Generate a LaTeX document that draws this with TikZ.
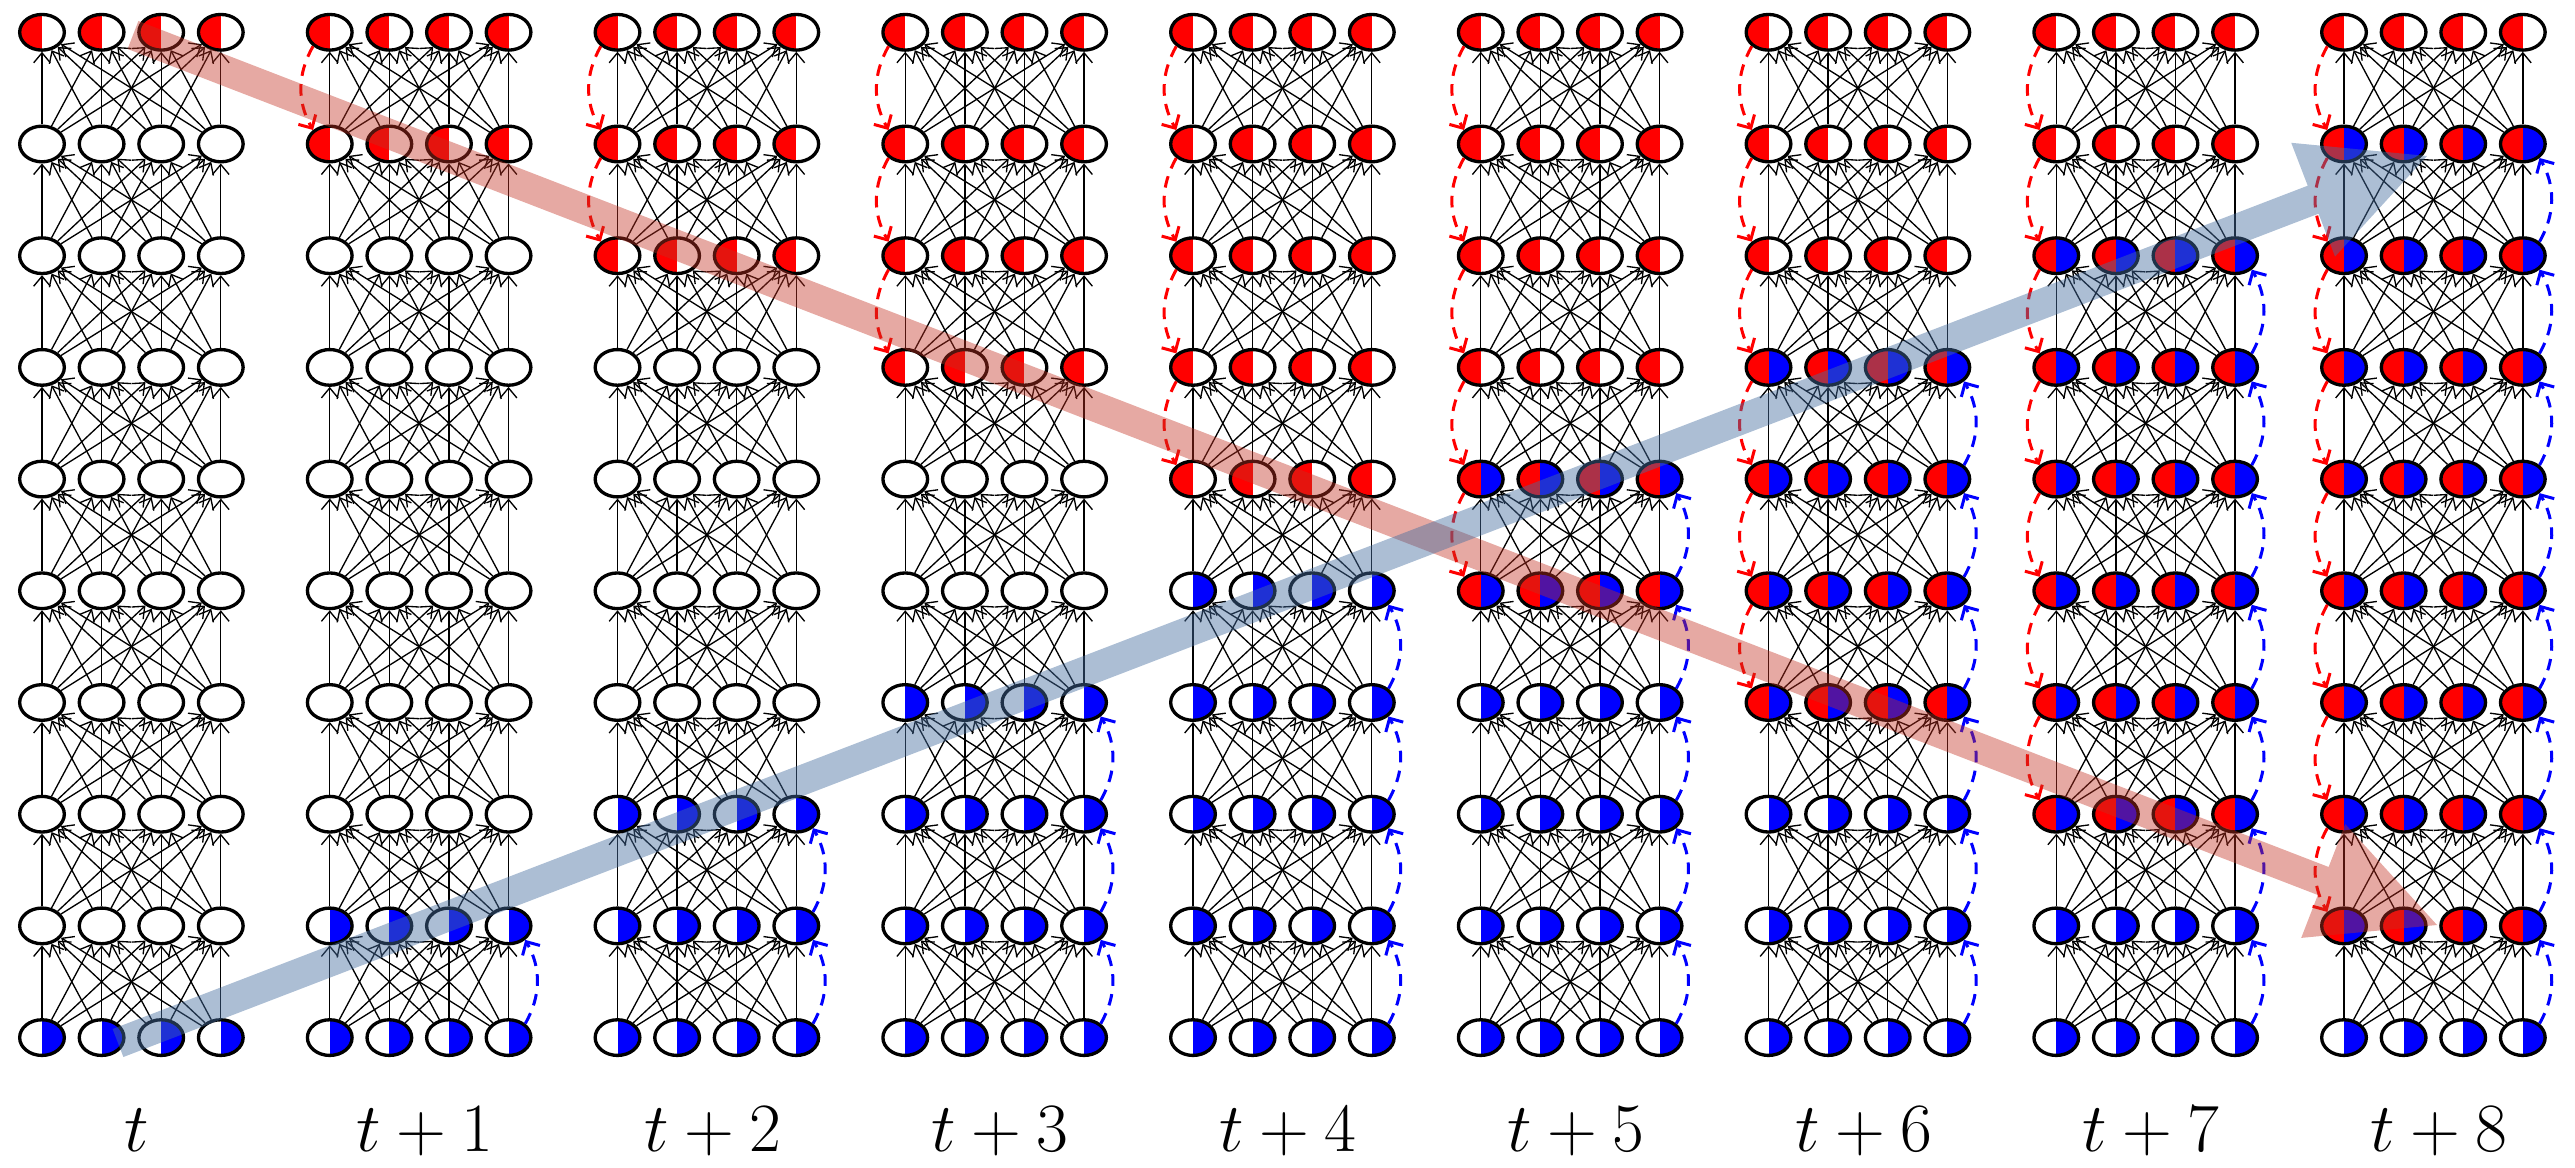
\documentclass[tikz,border=0pt]{standalone}
\usetikzlibrary{arrows.meta,shapes.geometric}
\definecolor{bandred}{RGB}{195,50,35}
\definecolor{bandblue}{RGB}{70,110,160}
\tikzset{
  neuron/.style={ellipse, draw, line width=1pt, fill=white,
    minimum width=13.4pt, minimum height=10.7pt, inner sep=0pt},
  state0/.style={},
  state1/.style={path picture={\fill[red] (path picture bounding box.south west) rectangle (path picture bounding box.north);}},
  state2/.style={path picture={\fill[blue] (path picture bounding box.south) rectangle (path picture bounding box.north east);}},
  state3/.style={path picture={\fill[red] (path picture bounding box.south west) rectangle (path picture bounding box.north);
      \fill[blue] (path picture bounding box.south) rectangle (path picture bounding box.north east);}},
  link/.style={line width=0.4pt, -{Straight Barb[length=3pt,width=5pt]}},
  reddash/.style={red, line width=0.9pt, dash pattern=on 3.5pt off 2.5pt,
    -{Straight Barb[length=3pt,width=6pt]}},
  bluedash/.style={blue, line width=0.9pt, dash pattern=on 3.5pt off 2.5pt,
    -{Straight Barb[length=3pt,width=6pt]}},
  steplabel/.style={font=\fontsize{21.5}{26}\selectfont, anchor=base, inner sep=0pt, text depth=0pt}
}
\begin{document}
\begin{tikzpicture}[x=0.3pt,y=-0.3pt]
\useasboundingbox (0,0) rectangle (2575,1168);
% neurons
\foreach \k in {0,...,8} {
  \foreach \j in {1,...,10} {
    \pgfmathtruncatemacro\isred{\j<=\k+1 ? 1 : 0}
    \pgfmathtruncatemacro\isblue{\j>=10-\k ? 1 : 0}
    \pgfmathtruncatemacro\st{\isred+2*\isblue}
    \foreach \i in {1,...,4} {
      \node[neuron,state\st] (c\k-\j-\i) at ({42+\k*287.75+(\i-1)*59.6},{32.3+(\j-1)*111.7}) {};
    }
  }
}
% full connections, lower layer -> upper layer
\foreach \k in {0,...,8} {
  \foreach \j in {2,...,10} {
    \pgfmathtruncatemacro\jj{\j-1}
    \foreach \a in {1,...,4} {
      \foreach \b in {1,...,4} {
        \draw[link] (c\k-\j-\a) -- (c\k-\jj-\b);
      }
    }
  }
}
% dashed propagation arrows
\foreach \k in {1,...,8} {
  \foreach \j in {1,...,\k} {
    \pgfmathtruncatemacro\jn{\j+1}
    \draw[reddash] (c\k-\j-1.220) .. controls +(-16,28) and +(-16,-28) .. (c\k-\jn-1.140);
  }
  \foreach \m in {1,...,\k} {
    \pgfmathtruncatemacro\jl{11-\m}
    \pgfmathtruncatemacro\ju{10-\m}
    \draw[bluedash] (c\k-\jl-4.40) .. controls +(16,-28) and +(16,28) .. (c\k-\ju-4.320);
  }
}
% labels
\foreach \k in {0,...,8} {
  \node[steplabel] (lab\k) at ({42+\k*287.75+95},1151) {\ifnum\k=0 $t$\else $t+\k$\fi};
}
% wide translucent arrows
\fill[bandred, opacity=0.42] (127.6,49.0) -- (2317.8,895.0) -- (2301.2,937.9) -- (2437,925)
  -- (2345.2,824.1) -- (2328.6,867.0) -- (138.4,21.0) -- cycle;
\fill[bandblue, opacity=0.45] (123.4,1057.0) -- (2318.5,213.7) -- (2335.0,256.6) -- (2427,156)
  -- (2291.2,142.8) -- (2307.7,185.7) -- (112.6,1029.0) -- cycle;
\end{tikzpicture}
\end{document}
